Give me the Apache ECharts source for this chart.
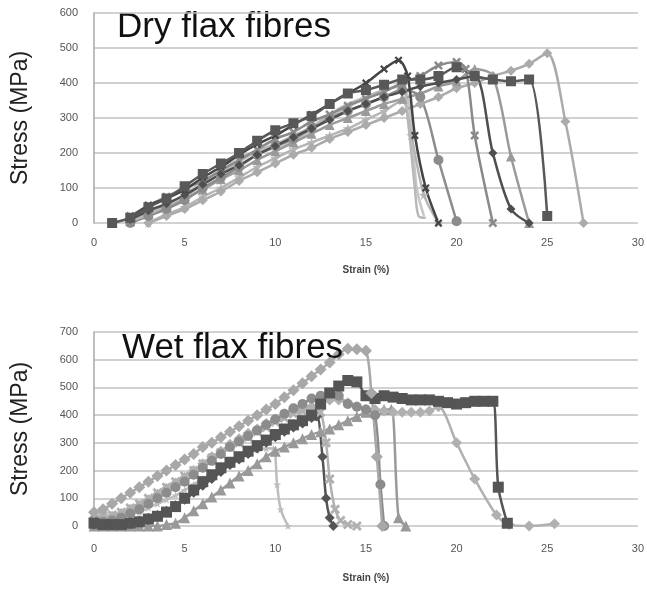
<!DOCTYPE html>
<html>
<head>
<meta charset="utf-8">
<script src="https://cdn.jsdelivr.net/npm/echarts@6/dist/echarts.min.js"></script>
<style>
  html, body { margin: 0; padding: 0; background: #fff; }
  #chart { width: 647px; height: 589px; }
</style>
</head>
<body>
<div id="chart"></div>
<script>
// strain (%) / stress (MPa) pairs
const dryS1 = [[1,0],[2,15],[3,45],[4,70],[5,105],[6,140],[7,170],[8,200],[9,235],[10,265],[11,285],[12,305],[13,340],[14,370],[15,380],[16,395],[17,410],[18,410],[19,420],[20,445],[21,420],[22,410],[23,405],[24,410],[25,20]];
const dryS2 = [[2,15],[3,50],[4,70],[5,95],[6,130],[7,160],[8,195],[9,225],[10,250],[11,280],[12,310],[13,340],[14,370],[15,400],[16,440],[16.8,465],[17.3,420],[17.7,250],[18.3,100],[19,0]];
const dryS3 = [[2,5],[3,25],[4,50],[5,75],[6,110],[7,140],[8,175],[9,205],[10,225],[11,250],[12,275],[13,310],[14,340],[15,360],[16,380],[17,390],[17.3,300],[17.7,100],[17.9,20],[18.3,15]];
const dryS4 = [[2,0],[3,20],[4,40],[5,65],[6,100],[7,130],[8,160],[9,195],[10,220],[11,240],[12,270],[13,300],[14,320],[15,340],[16,360],[17,380],[18,360],[19,180],[20,5]];
const dryS5 = [[2,20],[3,50],[4,75],[5,100],[6,120],[7,150],[8,180],[9,210],[10,240],[11,260],[12,290],[13,310],[14,335],[15,355],[16,375],[17,400],[18,420],[19,450],[20,460],[20.5,440],[21,250],[22,0]];
const dryS6 = [[2,10],[3,35],[4,55],[5,80],[6,110],[7,140],[8,165],[9,195],[10,220],[11,245],[12,270],[13,295],[14,320],[15,340],[16,360],[17,375],[18,390],[19,400],[20,410],[21,420],[22,200],[23,40],[24,0]];
const dryS7 = [[2,5],[3,25],[4,45],[5,70],[6,95],[7,125],[8,150],[9,180],[10,205],[11,230],[12,255],[13,280],[14,300],[15,320],[16,340],[17,355],[18,370],[19,390],[20,405],[21,440],[22,420],[23,190],[24,0]];
const dryS8 = [[3,0],[4,20],[5,40],[6,65],[7,90],[8,120],[9,145],[10,170],[11,195],[12,215],[13,240],[14,260],[15,280],[16,300],[17,320],[18,340],[19,360],[20,385],[21,400],[22,420],[23,435],[24,455],[25,485],[26,290],[27,0]];
const dryS9 = [[3,0],[4,25],[5,45],[6,75],[7,100],[8,130],[9,160],[10,185],[11,210],[12,230],[13,250],[14,270],[15,295],[16,320],[17,350],[17.5,250],[18.2,80],[19,0]];
const dryS10 = [[2,10],[3,30],[4,55],[5,80],[6,120],[7,150],[8,190],[9,200],[10,215],[11,235],[12,265],[13,300],[14,330],[15,360],[16,380],[17,395],[17.4,330],[17.8,100],[18.2,20]];

const wetS1 = [[0,50],[0.5,60],[1,80],[1.5,100],[2,120],[2.5,140],[3,160],[3.5,180],[4,200],[4.5,220],[5,240],[5.5,260],[6,285],[6.5,300],[7,320],[7.5,340],[8,360],[8.5,380],[9,400],[9.5,420],[10,440],[10.5,465],[11,490],[11.5,515],[12,540],[12.5,565],[13,590],[13.5,620],[14,640],[14.5,638],[15,632],[15.3,480],[15.6,250],[15.9,0]];
const wetS2 = [[0,10],[0.5,5],[1,5],[1.5,5],[2,10],[2.5,15],[3,25],[3.5,35],[4,50],[4.5,70],[5,100],[5.5,130],[6,160],[6.5,185],[7,210],[7.5,230],[8,250],[8.5,270],[9,290],[9.5,310],[10,330],[10.5,350],[11,365],[11.5,380],[12,400],[12.5,440],[13,480],[13.5,505],[14,525],[14.5,520],[15,470],[15.5,460],[16,470],[16.5,465],[17,460],[17.5,455],[18,455],[18.5,455],[19,450],[19.5,445],[20,440],[20.5,445],[21,450],[21.5,450],[22,450],[22.3,140],[22.8,10]];
const wetS3 = [[0,20],[0.5,15],[1,20],[1.5,30],[2,45],[2.5,60],[3,80],[3.5,100],[4,120],[4.5,140],[5,160],[5.5,185],[6,210],[6.5,235],[7,260],[7.5,285],[8,305],[8.5,325],[9,345],[9.5,365],[10,385],[10.5,405],[11,425],[11.5,440],[12,460],[12.5,470],[13,480],[13.5,470],[14,440],[14.5,430],[15,420],[15.5,400],[15.8,150],[16,0]];
const wetS4 = [[0,30],[0.5,30],[1,35],[1.5,45],[2,60],[2.5,75],[3,95],[3.5,115],[4,135],[4.5,155],[5,175],[5.5,200],[6,225],[6.5,250],[7,270],[7.5,295],[8,315],[8.5,335],[9,350],[9.5,370],[10,385],[10.5,400],[11,415],[11.5,425],[12,430],[12.5,440],[13,455],[13.5,455],[14,445],[14.5,430],[15,420],[15.5,420],[16,415],[16.5,410],[17,410],[17.5,410],[18,410],[18.5,415],[19,430],[20,300],[21,170],[22.2,40],[22.9,5],[24,0],[25.4,8]];
const wetS5 = [[0,0],[0.5,0],[1,0],[1.5,0],[2,0],[2.5,0],[3,0],[3.5,0],[4,5],[4.5,10],[5,30],[5.5,55],[6,80],[6.5,105],[7,130],[7.5,155],[8,180],[8.5,200],[9,225],[9.5,250],[10,270],[10.5,285],[11,300],[11.5,315],[12,330],[12.5,340],[13,350],[13.5,365],[14,380],[14.5,395],[15,410],[15.5,415],[16,420],[16.4,420],[16.8,30],[17.2,0]];
const wetS6 = [[0,5],[0.5,5],[1,10],[1.5,10],[2,15],[2.5,20],[3,30],[3.5,40],[4,55],[4.5,75],[5,95],[5.5,120],[6,145],[6.5,170],[7,195],[7.5,220],[8,240],[8.5,260],[9,280],[9.5,300],[10,320],[10.5,340],[11,355],[11.5,370],[12,390],[12.3,395],[12.6,250],[12.8,100],[13,30],[13.2,0]];
const wetS7 = [[0,40],[0.5,35],[1,40],[1.5,50],[2,65],[2.5,80],[3,100],[3.5,120],[4,140],[4.5,160],[5,180],[5.5,200],[6,225],[6.5,245],[7,265],[7.5,285],[8,300],[8.5,320],[9,340],[9.5,355],[10,375],[10.5,390],[11,405],[11.5,415],[12,420],[12.5,410],[12.8,300],[13,170],[13.3,60],[13.6,20],[14,5],[14.5,0]];
const wetS8 = [[0,20],[0.5,20],[1,25],[1.5,30],[2,40],[2.5,50],[3,65],[3.5,80],[4,95],[4.5,110],[5,130],[5.5,150],[6,170],[6.5,190],[7,210],[7.5,230],[8,250],[8.5,265],[9,275],[9.5,280],[9.9,280],[10.1,150],[10.3,60],[10.7,0]];

const xTicks = [0, 5, 10, 15, 20, 25, 30];

const CROSS = "path://M2,0L5,3L8,0L10,2L7,5L10,8L8,10L5,7L2,10L0,8L3,5L0,2Z";
const STAR = "path://M5,0L6.2,3.8L10,3.8L7,6.2L8.1,10L5,7.6L1.9,10L3,6.2L0,3.8L3.8,3.8Z";

const line = (data, idx, color, symbol, size) => ({
  type: "line",
  data: data,
  xAxisIndex: idx,
  yAxisIndex: idx,
  smooth: 0.3,
  symbol: symbol,
  symbolSize: size,
  showSymbol: symbol !== "none",
  lineStyle: { color: color, width: 2.5 },
  itemStyle: { color: color },
  animation: false,
});

const chart = echarts.init(document.getElementById("chart"));

const xAxisBase = (idx, margin, gap) => ({
  type: "value",
  gridIndex: idx,
  min: 0,
  max: 30,
  interval: 5,
  name: "Strain (%)",
  nameLocation: "middle",
  nameGap: gap,
  nameTextStyle: { fontSize: 10, fontWeight: "bold", color: "#444", fontFamily: "Liberation Sans" },
  axisLine: { show: false },
  axisTick: { show: false },
  splitLine: { show: false },
  axisLabel: {
    margin: margin,
    fontSize: 11,
    color: "#555",
    fontFamily: "Liberation Sans",
    customValues: xTicks,
  },
});

const yAxisBase = (idx, max) => ({
  type: "value",
  gridIndex: idx,
  min: 0,
  max: max,
  interval: 100,
  name: "Stress (MPa)",
  nameLocation: "middle",
  nameGap: 62,
  nameTextStyle: { fontSize: 23, color: "#222", fontFamily: "Liberation Sans" },
  axisLine: { show: true, lineStyle: { color: "#a8a8a8", width: 1.5 } },
  axisTick: { show: false },
  splitLine: { show: true, lineStyle: { color: "#c2c2c2", width: 1.5 } },
  axisLabel: { margin: 16, fontSize: 11, color: "#555", fontFamily: "Liberation Sans" },
});

chart.setOption({
  backgroundColor: "#fff",
  grid: [
    { left: 94, right: 8, top: 13, height: 210 },
    { left: 94, right: 8, top: 332, height: 194 },
  ],
  xAxis: [xAxisBase(0, 14, 42), xAxisBase(1, 17, 47)],
  yAxis: [yAxisBase(0, 600), yAxisBase(1, 700)],
  graphic: [
    { type: "text", left: 117, top: 10, style: { text: "Dry flax fibres", fontSize: 35, fill: "#111", fontFamily: "Liberation Sans" } },
    { type: "text", left: 122, top: 331, style: { text: "Wet flax fibres", fontSize: 35, fill: "#111", fontFamily: "Liberation Sans" }, z: 100 },
  ],
  series: [
    line(dryS10, 0, "#c6c6c6", "none", 0),
    line(dryS9, 0, "#b5b5b5", STAR, 10),
    line(dryS8, 0, "#ababab", "diamond", 10),
    line(dryS7, 0, "#9a9a9a", "triangle", 10),
    line(dryS4, 0, "#8c8c8c", "circle", 10),
    line(dryS3, 0, "#b8b8b8", "none", 0),
    line(dryS5, 0, "#8a8a8a", CROSS, 9),
    line(dryS6, 0, "#4f4f4f", "diamond", 9),
    line(dryS2, 0, "#444444", CROSS, 8),
    line(dryS1, 0, "#585858", "rect", 10),

    line(wetS8, 1, "#bdbdbd", STAR, 8),
    line(wetS5, 1, "#999999", "triangle", 11),
    line(wetS6, 1, "#555555", "diamond", 10),
    line(wetS7, 1, "#b0b0b0", CROSS, 10),
    line(wetS4, 1, "#b0b0b0", "diamond", 11),
    line(wetS3, 1, "#8c8c8c", "circle", 10),
    line(wetS2, 1, "#555555", "rect", 11),
    line(wetS1, 1, "#a8a8a8", "diamond", 12),
  ],
});
</script>
</body>
</html>
